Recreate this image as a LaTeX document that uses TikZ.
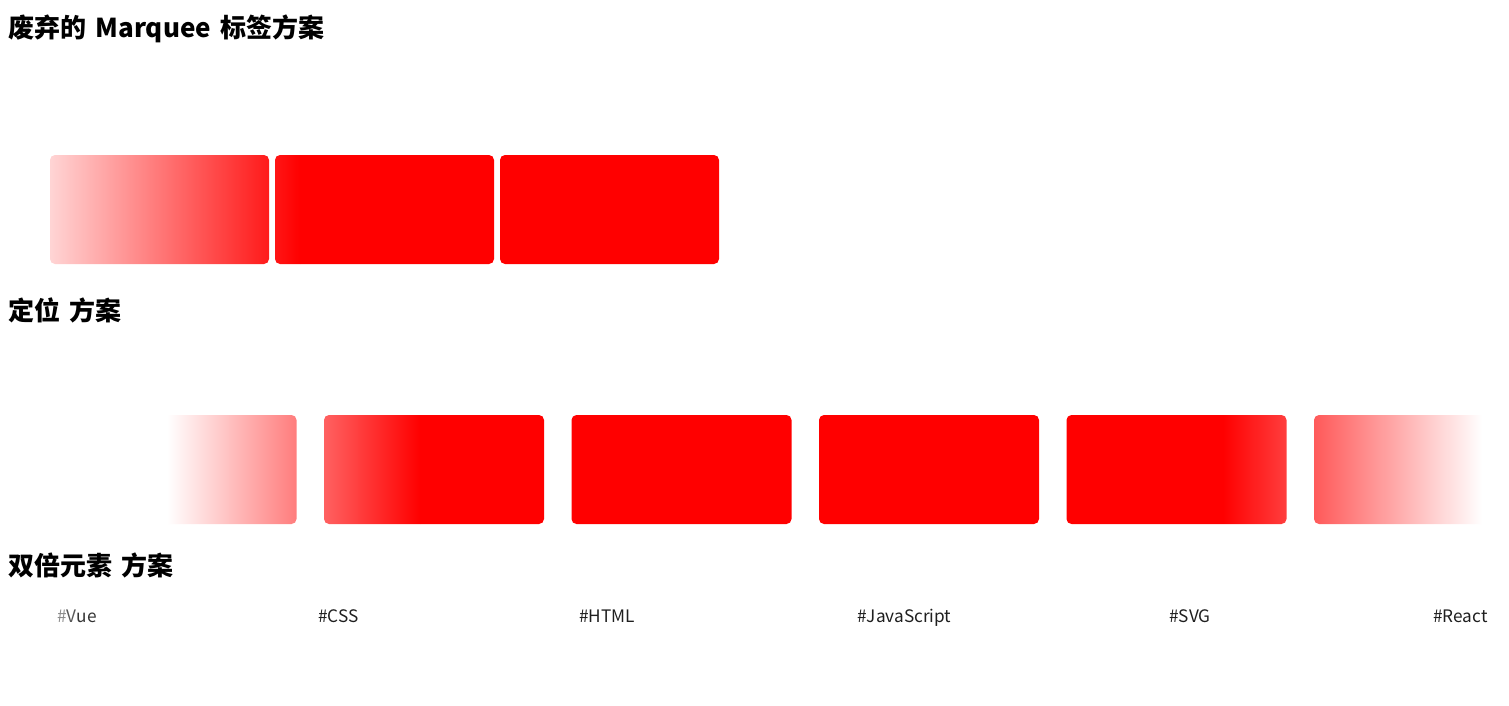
\documentclass[tikz,border=0pt]{standalone}
\usepackage{fontspec}
\newfontfamily\cjk{Noto Sans CJK SC}
\begin{document}
\begin{tikzpicture}[x=0.5pt,y=-0.5pt,
  title/.style={anchor=base west,inner sep=0pt,font=\cjk\bfseries\fontsize{13pt}{15pt}\selectfont,text=black,
    execute at begin node={\spaceskip=4.6pt\relax}},
  tag/.style={anchor=base west,inner sep=0pt,font=\cjk\fontsize{8.6pt}{10pt}\selectfont,text=black!88},
  boxr/.style={rounded corners=2.5pt}]
\fill[white] (0,0) rectangle (1509,706);
\useasboundingbox (0,0) rectangle (1509,706);

% titles
\node[title] (t1) at (8,38) {废弃的 Marquee 标签方案};
\node[title] (t2) at (8,320) {定位 方案};
\node[title] (t3) at (8,575) {双倍元素 方案};

% row 1
\begin{scope}
  \clip[boxr] (50,155) rectangle ++(219,109)
              (275,155) rectangle ++(219,109)
              (500,155) rectangle ++(219,109);
  \shade[left color=white,right color=red] (0,150) rectangle (300,270);
  \fill[red] (300,150) rectangle (1509,270);
\end{scope}

% row 2
\begin{scope}
  \clip[boxr] (76.5,415) rectangle ++(220,109)
              (324,415) rectangle ++(220,109)
              (571.5,415) rectangle ++(220,109)
              (819,415) rectangle ++(220,109)
              (1066.5,415) rectangle ++(220,109)
              (1314,415) rectangle ++(220,109);
  \shade[left color=white,right color=red] (167,410) rectangle (420,530);
  \fill[red] (420,410) rectangle (1223,530);
  \shade[left color=red,right color=white] (1223,410) rectangle (1482,530);
\end{scope}

% row 3 tags
\node[tag] (vue) at (57,622) {\textcolor{black!45}{\#}\textcolor{black!65}{V}\textcolor{black!80}{ue}};
\node[tag] (css) at (318,622) {\#CSS};
\node[tag] (html) at (579,622) {\#HTML};
\node[tag] (js) at (857,622) {\#JavaScript};
\node[tag] (svg) at (1169,622) {\#SVG};
\node[tag] (react) at (1433,622) {\#React};
\end{tikzpicture}
\end{document}
